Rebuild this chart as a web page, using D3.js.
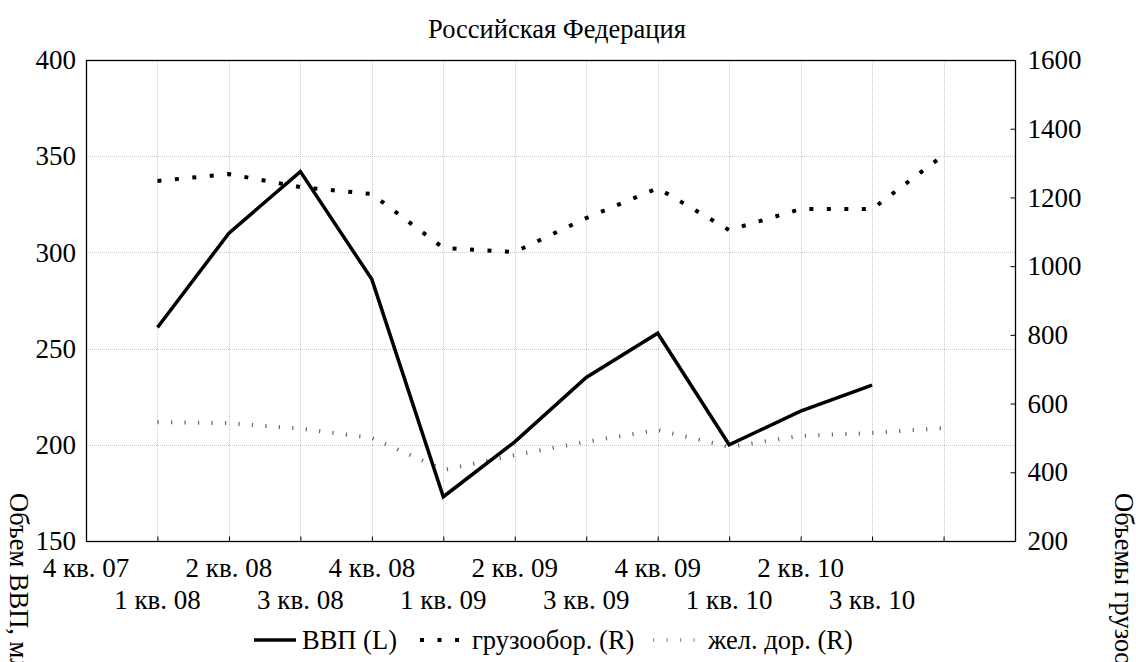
<!DOCTYPE html>
<html>
<head>
<meta charset="utf-8">
<script src="https://cdn.jsdelivr.net/npm/d3@7"></script>
<style>
  html, body { margin: 0; padding: 0; background: #fff; }
  svg { display: block; }
</style>
</head>
<body>
<script>
const categories = ["4 кв. 07","1 кв. 08","2 кв. 08","3 кв. 08","4 кв. 08","1 кв. 09","2 кв. 09","3 кв. 09","4 кв. 09","1 кв. 10","2 кв. 10","3 кв. 10","4 кв. 10","1 кв. 11"];
const tickLabels = ["4 кв. 07","1 кв. 08","2 кв. 08","3 кв. 08","4 кв. 08","1 кв. 09","2 кв. 09","3 кв. 09","4 кв. 09","1 кв. 10","2 кв. 10","3 кв. 10","",""];
const gdp = [null, 261, 310, 342, 286, 173, 201.5, 235, 258, 200, 217.5, 231, null, null];
const freight = [null, 1248, 1268, 1230, 1210, 1053, 1041, 1140, 1227, 1105, 1166, 1166, 1323, null];
const rail = [null, 546, 543, 527, 500, 407, 450, 489, 523, 474, 506, 514, 529, null];
const leftTicks = [150, 200, 250, 300, 350, 400];
const rightTicks = [200, 400, 600, 800, 1000, 1200, 1400, 1600];
const title = "Российская Федерация";
const leftTitle = "Объем ВВП, млрд. долл.";
const rightTitle = "Объемы грузооборота, млрд. т-км";
const legendNames = ["ВВП (L)", "грузообор. (R)", "жел. дор. (R)"];

const W = 1136, H = 662;
const L = 86, R = 1015, T = 60, B = 541;
const FS = 27, FS2 = 26.5;
const FONT = "'Liberation Serif', 'Times New Roman', serif";

const svg = d3.select("body").append("svg").attr("width", W).attr("height", H)
  .style("font-family", FONT);

const x = d3.scalePoint().domain(categories).range([L, R]);
const yL = d3.scaleLinear().domain([150, 400]).range([B, T]);
const yR = d3.scaleLinear().domain([200, 1600]).range([B, T]);

// grid
const grid = svg.append("g").attr("stroke", "#c8c8c8").attr("stroke-width", 1).attr("stroke-dasharray", "1,1");
grid.selectAll("line.h").data(leftTicks.slice(1, -1)).join("line")
  .attr("x1", L).attr("x2", R).attr("y1", d => Math.round(yL(d)) + 0.5).attr("y2", d => Math.round(yL(d)) + 0.5);
grid.selectAll("line.v").data(categories.slice(1, -1)).join("line")
  .attr("y1", T).attr("y2", B).attr("x1", d => Math.round(x(d)) + 0.5).attr("x2", d => Math.round(x(d)) + 0.5);

// frame
svg.append("rect").attr("x", L + 0.5).attr("y", T + 0.5).attr("width", R - L).attr("height", B - T)
  .attr("fill", "none").attr("stroke", "#000").attr("stroke-width", 1.3);

// bottom axis (inward ticks)
const xAxis = d3.axisBottom(x).tickSize(-5).tickFormat("");
svg.append("g").attr("transform", `translate(0,${B + 0.5})`).call(xAxis)
  .call(g => g.select(".domain").remove())
  .selectAll("line").attr("stroke", "#000");
svg.append("g").selectAll("text").data(categories).join("text")
  .attr("x", d => x(d))
  .attr("y", (d, i) => i % 2 === 0 ? 577 : 609)
  .attr("text-anchor", "middle")
  .attr("font-size", FS)
  .style("font-family", FONT)
  .text((d, i) => tickLabels[i]);

// left axis labels
const yAxisL = d3.axisLeft(yL).tickValues(leftTicks).tickFormat(d3.format("d")).tickSize(0).tickPadding(10);
svg.append("g").attr("transform", `translate(${L},0)`).call(yAxisL)
  .attr("font-family", null).attr("font-size", null)
  .call(g => g.select(".domain").remove())
  .selectAll("text").attr("font-size", FS).style("font-family", FONT).attr("fill", "#000");

// right axis (inward ticks)
const yAxisR = d3.axisRight(yR).tickValues(rightTicks).tickFormat(d3.format("d")).tickSize(-5).tickPadding(12);
svg.append("g").attr("transform", `translate(${R + 0.5},0)`).call(yAxisR)
  .attr("font-family", null).attr("font-size", null)
  .call(g => g.select(".domain").remove())
  .call(g => g.selectAll("line").attr("stroke", "#000"))
  .selectAll("text").attr("font-size", FS).style("font-family", FONT).attr("fill", "#000");

// title
svg.append("text").attr("x", 557).attr("y", 38).attr("text-anchor", "middle").attr("font-size", FS2)
  .style("font-family", FONT).text(title);

// axis titles
svg.append("text").attr("transform", "translate(10,493) rotate(90)").attr("font-size", FS2).style("font-family", FONT).text(leftTitle);
svg.append("text").attr("transform", "translate(1115,493) rotate(90)").attr("font-size", FS2).style("font-family", FONT).text(rightTitle);

// lines
const lineL = d3.line().defined(d => d.v !== null).x(d => x(d.c)).y(d => yL(d.v));
const lineR = d3.line().defined(d => d.v !== null).x(d => x(d.c)).y(d => yR(d.v));
const rows = arr => categories.map((c, i) => ({c, v: arr[i]}));

svg.append("path").datum(rows(rail)).attr("d", lineR)
  .attr("fill", "none").attr("stroke", "#666").attr("stroke-width", 4).attr("stroke-dasharray", "1.2,12.3");
svg.append("path").datum(rows(freight)).attr("d", lineR)
  .attr("fill", "none").attr("stroke", "#000").attr("stroke-width", 4).attr("stroke-dasharray", "4,13.5");
svg.append("path").datum(rows(gdp)).attr("d", lineL)
  .attr("fill", "none").attr("stroke", "#000").attr("stroke-width", 3.5).attr("stroke-linejoin", "miter");

// legend
const ly = 640;
const lg = svg.append("g").style("font-family", FONT);
lg.append("line").attr("x1", 254).attr("x2", 296).attr("y1", ly).attr("y2", ly).attr("stroke", "#000").attr("stroke-width", 3.5);
lg.append("text").attr("x", 302).attr("y", ly + 9).attr("font-size", FS2).text(legendNames[0]);
lg.append("line").attr("x1", 420).attr("x2", 462).attr("y1", ly).attr("y2", ly).attr("stroke", "#000").attr("stroke-width", 4).attr("stroke-dasharray", "4,13.5");
lg.append("text").attr("x", 472).attr("y", ly + 9).attr("font-size", FS2).text(legendNames[1]);
lg.append("line").attr("x1", 653).attr("x2", 697).attr("y1", ly).attr("y2", ly).attr("stroke", "#999").attr("stroke-width", 4).attr("stroke-dasharray", "1.2,12.3");
lg.append("text").attr("x", 708).attr("y", ly + 9).attr("font-size", FS2).text(legendNames[2]);
</script>
</body>
</html>
